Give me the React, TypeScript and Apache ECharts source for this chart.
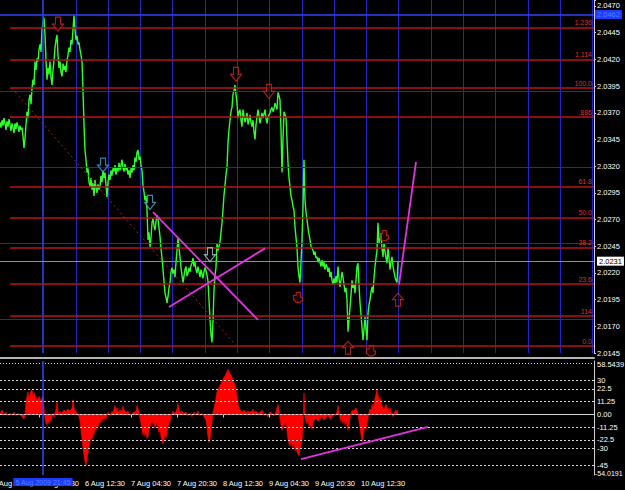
import React, { useEffect, useRef } from "react";
import * as echarts from "echarts";

// ---------- data ----------
const barCount = 595;
const closes: number[] = [
  2.0361, 2.0356, 2.0363, 2.0358, 2.0365, 2.036, 2.0354, 2.0362, 2.0357, 2.0364,
  2.0359, 2.0353, 2.036, 2.0356, 2.0351, 2.036, 2.0355, 2.0361, 2.0357, 2.0352,
  2.0358, 2.0354, 2.0356, 2.0348, 2.0337, 2.0346, 2.0359, 2.0371, 2.0365, 2.0382,
  2.0387, 2.0378, 2.0393, 2.0401, 2.0396, 2.0418, 2.041, 2.0421, 2.0418, 2.0429,
  2.0434, 2.0427, 2.0448, 2.0455, 2.0459, 2.0443, 2.0419, 2.0401, 2.0412, 2.0406,
  2.0418, 2.0403, 2.0396, 2.041, 2.0419, 2.0431, 2.0438, 2.0443, 2.0424, 2.0412,
  2.0418, 2.0408, 2.0404, 2.0416, 2.041, 2.0414, 2.0408, 2.0419, 2.0424, 2.0431,
  2.0427, 2.0438, 2.0434, 2.0448, 2.0461, 2.0448, 2.0438, 2.0442, 2.0434, 2.0436,
  2.0429, 2.0424, 2.0418, 2.0391, 2.0359, 2.0335, 2.0326, 2.0314, 2.0318, 2.0305,
  2.0301, 2.0309, 2.0298, 2.0304, 2.0292, 2.0307, 2.03, 2.0295, 2.0303, 2.0298,
  2.0301, 2.0311, 2.0305, 2.0316, 2.0309, 2.0314, 2.0302, 2.0291, 2.0305, 2.0312,
  2.0307, 2.0316, 2.0311, 2.0318, 2.0315, 2.0321, 2.0312, 2.0319, 2.0315, 2.0323,
  2.0316, 2.0321, 2.0326, 2.0318, 2.0315, 2.0322, 2.0316, 2.0319, 2.0312, 2.0316,
  2.0309, 2.0318, 2.0314, 2.0321, 2.0316, 2.0328, 2.0324, 2.0333, 2.0335, 2.0326,
  2.0329, 2.0321, 2.0316, 2.0302, 2.0296, 2.0288, 2.0292, 2.0279, 2.0251, 2.0258,
  2.0244, 2.0253, 2.0267, 2.0271, 2.0264, 2.026, 2.0268, 2.0274, 2.0271, 2.0262,
  2.0254, 2.0243, 2.0234, 2.0223, 2.0212, 2.0201, 2.0197, 2.0192, 2.0198, 2.0206,
  2.0211, 2.0221, 2.0225, 2.0219, 2.0223, 2.0216, 2.023, 2.0241, 2.0253, 2.0243,
  2.0235, 2.0225, 2.0218, 2.0211, 2.0217, 2.0223, 2.0226, 2.0217, 2.022, 2.0225,
  2.0221, 2.0227, 2.0229, 2.0234, 2.0226, 2.023, 2.0223, 2.022, 2.0226, 2.0221,
  2.0216, 2.0223, 2.0219, 2.0215, 2.0221, 2.0225, 2.0222, 2.0218, 2.0212, 2.0195,
  2.0176, 2.0162, 2.0155, 2.0176, 2.0204, 2.0218, 2.0225, 2.0248, 2.0241, 2.0245,
  2.0249, 2.0258, 2.0267, 2.0279, 2.0293, 2.0302, 2.0312, 2.0319, 2.0342, 2.0354,
  2.0363, 2.0371, 2.0375, 2.0387, 2.0391, 2.0396, 2.0387, 2.0379, 2.0365, 2.0371,
  2.0373, 2.0363, 2.0357, 2.0373, 2.0367, 2.0361, 2.0365, 2.037, 2.0359, 2.0363,
  2.0368, 2.0361, 2.0357, 2.0363, 2.0352, 2.0345, 2.0359, 2.0366, 2.0373, 2.0367,
  2.036, 2.0365, 2.037, 2.0365, 2.0369, 2.0373, 2.0365, 2.036, 2.0366, 2.0368,
  2.037, 2.0373, 2.0375, 2.0371, 2.0374, 2.0379, 2.0376, 2.0373, 2.0389, 2.0386,
  2.0382, 2.0354, 2.0314, 2.0345, 2.0371, 2.0368, 2.0366, 2.0345, 2.0323, 2.0309,
  2.0301, 2.0292, 2.0288, 2.0282, 2.0279, 2.0263, 2.0253, 2.0244, 2.0225, 2.0217,
  2.0211, 2.023, 2.0251, 2.0282, 2.0326, 2.0288, 2.0277, 2.027, 2.0262, 2.0256,
  2.0251, 2.0245, 2.0243, 2.0241, 2.0237, 2.024, 2.0234, 2.0235, 2.023, 2.0234,
  2.023, 2.0226, 2.0232, 2.0226, 2.023, 2.0223, 2.0228, 2.0226, 2.0221, 2.0225,
  2.0216, 2.0221, 2.0213, 2.0209, 2.0215, 2.021, 2.0217, 2.0211, 2.0226, 2.0215,
  2.0207, 2.0213, 2.0221, 2.0216, 2.0209, 2.0202, 2.0206, 2.0195, 2.0165, 2.0176,
  2.0188, 2.0199, 2.0213, 2.0206, 2.0209, 2.0201, 2.0213, 2.0226, 2.0229, 2.0209,
  2.0192, 2.0181, 2.0169, 2.0157, 2.0167, 2.0179, 2.0167, 2.0157, 2.0182, 2.019,
  2.0195, 2.0202, 2.0207, 2.0201, 2.0215, 2.0226, 2.0234, 2.0241, 2.0267, 2.0248,
  2.0253, 2.0257, 2.0243, 2.0235, 2.0248, 2.024, 2.0234, 2.0229, 2.0244, 2.0234,
  2.0223, 2.023, 2.0235, 2.0226, 2.0221, 2.0216, 2.0213, 2.0211, 2.0231,
];

const oscillator: [number, number][] = [
  [0, 1], [2, 4], [4, 0], [6, 2], [8, -1], [10, 1], [12, 0], [14, 2], [16, -1], [18, 1],
  [20, 0], [22, -2], [24, -4], [25, 0], [26, 12], [27, 16], [28, 20], [29, 14], [30, 18], [31, 21],
  [32, 22], [33, 16], [34, 19], [35, 17], [36, 13], [37, 15], [38, 12], [39, 16], [40, 14], [41, 12],
  [42, 15], [43, 16], [44, 6], [45, -4], [46, -8], [47, -9], [48, -6], [49, -8], [50, -4], [51, -6],
  [52, -2], [53, 1], [54, -3], [55, 2], [56, 4], [57, 11], [58, 3], [59, 1], [60, 3], [61, -1],
  [62, 2], [64, 4], [66, 2], [68, 5], [70, 3], [72, 6], [73, 13], [74, 6], [75, 3], [77, 1],
  [79, -2], [80, -6], [81, -14], [82, -22], [83, -30], [84, -36], [85, -42], [86, -45], [87, -40], [88, -34],
  [89, -28], [90, -24], [91, -20], [92, -22], [93, -16], [94, -18], [95, -12], [96, -14], [97, -9], [98, -11],
  [99, -7], [100, -8], [101, -4], [102, -6], [103, -3], [104, -5], [105, -2], [106, -4], [107, -1], [108, 2],
  [110, -1], [112, 3], [113, 1], [114, 5], [115, 8], [116, 4], [117, 6], [118, 2], [120, 4], [122, 3],
  [123, 8], [124, 4], [126, 2], [128, 3], [130, -1], [132, 1], [134, 2], [136, 3], [137, 8], [138, 5],
  [139, 2], [140, -3], [141, -8], [142, -14], [143, -18], [144, -15], [145, -19], [146, -16], [147, -21], [148, -20],
  [149, -14], [150, -10], [151, -8], [152, -6], [153, -9], [154, -7], [155, -12], [156, -10], [157, -7], [158, -12],
  [159, -16], [160, -14], [161, -20], [162, -24], [163, -26], [164, -22], [165, -18], [166, -21], [167, -15], [168, -10],
  [169, -8], [170, -6], [171, -2], [172, 1], [173, 3], [174, 1], [176, 2], [177, 5], [178, 10], [179, 4],
  [180, 2], [182, 3], [184, 1], [186, 2], [188, -1], [190, 1], [192, -2], [194, 2], [196, 0], [198, 3],
  [200, -1], [202, 1], [204, -2], [206, -5], [207, -12], [208, -20], [209, -25], [210, -22], [211, -14], [212, -6],
  [213, 2], [214, 6], [215, 10], [216, 15], [217, 20], [218, 22], [219, 24], [220, 26], [221, 27], [222, 29],
  [223, 31], [224, 33], [225, 34], [226, 36], [227, 38], [228, 40], [229, 38], [230, 36], [231, 35], [232, 33],
  [233, 31], [234, 28], [235, 26], [236, 22], [237, 16], [238, 10], [239, 6], [240, 4], [242, 2], [244, 4],
  [246, 1], [248, 3], [250, 2], [252, 3], [253, 5], [254, 2], [256, 3], [258, 1], [260, 2], [262, 4],
  [263, 2], [264, -1], [266, 1], [268, -2], [270, 2], [272, 1], [274, -1], [276, 2], [277, 6], [278, 9],
  [279, 4], [280, -4], [281, -9], [282, -14], [283, -12], [284, -8], [285, -10], [286, -7], [287, -15], [288, -22],
  [289, -26], [290, -28], [291, -24], [292, -27], [293, -29], [294, -26], [295, -32], [296, -30], [297, -33], [298, -35],
  [299, -36], [300, -30], [301, -27], [302, -22], [303, -8], [304, 19], [305, -2], [306, -6], [307, -8], [308, -5],
  [309, -10], [310, -12], [311, -9], [312, -13], [313, -7], [314, -5], [316, -3], [318, -6], [320, -4], [322, -2],
  [324, -5], [326, -3], [328, -1], [330, -4], [332, -2], [334, 0], [336, -1], [337, 3], [338, 8], [339, 2],
  [340, -3], [341, -6], [342, -4], [343, -8], [344, -5], [345, -9], [346, -6], [347, -10], [348, -14], [349, -8],
  [350, -3], [351, 1], [352, 3], [353, 4], [354, 2], [355, 5], [356, 6], [357, 3], [358, 1], [359, -6],
  [360, -12], [361, -18], [362, -24], [363, -20], [364, -14], [365, -10], [366, -13], [367, -8], [368, -4], [369, 2],
  [370, 5], [371, 3], [372, 9], [373, 6], [374, 10], [375, 14], [376, 18], [377, 22], [378, 17], [379, 13],
  [380, 15], [381, 10], [382, 8], [383, 6], [384, 4], [385, 7], [386, 9], [387, 5], [388, 6], [389, 3],
  [390, 6], [391, 2], [392, 1], [393, -2], [394, 1], [395, 3], [396, 4], [397, 2], [398, 4],
];

const priceMin = 2.0145;
const priceMax = 2.04756;
const priceStep = 0.0025;
const lastPrice = 2.0231;
const crossPrice = 2.0462;
const crossBar = 43;
const crossPriceText = "2.0462";
const crossTimeText = "5 Aug 2009 21:45";

const oscMin = -53.4;
const oscMax = 47.2;
const oscTopText = "58.5439";
const oscBottomText = "-54.0191";
const oscLevels = [45, 30, 22.5, 11.25, 0, -11.25, -22.5, -30, -45];
const oscLevelText = ["", "30", "22.5", "11.25", "0.00", "-11.25", "-22.5", "-30", "-45"];

const fibStartBar = 10;
const fibLabels = ["1.236", "1.114", "100.0", ".886", "61.8", "50.0", "38.2", "23.6", ".114", "0.0"];
const fibPrices = [2.045, 2.042, 2.0393, 2.0366, 2.0301, 2.0272, 2.0244, 2.021, 2.018, 2.0152];
const fibAnchor: [number, number][] = [[12, 2.0393], [236, 2.0152]];

const blueGridPrices = [2.039, 2.0319, 2.0248, 2.0177];
const blueGridBars = [76, 108, 140, 172, 205, 237, 269, 302, 334, 366, 398, 431, 463, 495, 528, 560, 592];

const xTickBars = [39, 85, 131, 177, 223, 269, 315, 361];
const xTickText = ["5 Aug 20:30", "6 Aug 12:30", "7 Aug 04:30", "7 Aug 20:30", "8 Aug 12:30", "9 Aug 04:30", "9 Aug 20:30", "10 Aug 12:30"];
const cutLabelText = "5 Aug 04:30";

const priceTrendlines: [number, number, number, number][] = [
  [30, 2.0476, 594, 2.0305],
  [153, 2.0277, 258, 2.0176],
  [169, 2.0188, 265, 2.0243],
  [301, 2.0209, 375, 2.0141],
  [399, 2.0209, 416, 2.0324],
];
const oscTrendlines: [number, number, number, number][] = [[301, -39.3, 428, -11.0]];

const arrowsDown: [number, number, string][] = [
  [58, 2.0453, "#d02424"],
  [236, 2.0406, "#d02424"],
  [269, 2.039, "#d02424"],
  [103, 2.0321, "#3fa0e0"],
  [150, 2.0286, "#5aa8d0"],
  [210, 2.0237, "#a8c4d4"],
];
const arrowsUp: [number, number][] = [[348, 2.015], [398, 2.0195]];
const thumbs: [number, number][] = [[298, 2.0197], [384, 2.0255], [371, 2.0147]];

// ---------- chart ----------
const FONT = "Liberation Sans, Arial, sans-serif";
const magenta = "#e032e0";
const blueGrid = "#2424c4";
const crossBlue = "#2846ff";
const fibRed = "#b41616";
const downPath = "path://M3,0L8,0L8,7L11,7L5.5,14L0,7L3,7Z";
const upPath = "path://M5.5,0L11,7L8,7L8,14L3,14L3,7L0,7Z";
const thumbPath = "path://M3,0L8,0L8,5L10,5L10,8L7,10L3,10L0,7L0,3L3,3Z";

function hLine(p: number, from: number, to: number, lineStyle: any, label: any = { show: false }) {
  return [{ coord: [from, p], lineStyle, label }, { coord: [to, p] }];
}

export default function App() {
  const ref = useRef<HTMLDivElement>(null);
  useEffect(() => {
    if (!ref.current) return;
    const chart = echarts.init(ref.current, null, { renderer: "svg" });
    const cats = Array.from({ length: barCount }, (_, i) => String(i));
    const lastBar = barCount - 1;
    const tickFn = (idx: number) => xTickBars.includes(idx);

    const option: any = {
      animation: false,
      backgroundColor: "#000000",
      textStyle: { fontFamily: FONT },
      grid: [
        { left: 0, right: 31, top: 0, height: 353 },
        { left: 0, right: 31, top: 361, height: 114 },
      ],
      xAxis: [
        {
          type: "category", gridIndex: 0, data: cats, boundaryGap: false,
          offset: 5,
          axisLine: { show: true, lineStyle: { color: "#b4b4b4", width: 2 } },
          axisTick: { show: false }, axisLabel: { show: false },
          splitLine: { show: true, interval: (idx: number) => blueGridBars.includes(idx), lineStyle: { color: blueGrid, width: 1 } },
        },
        {
          type: "category", gridIndex: 1, data: cats, boundaryGap: false,
          axisLine: { show: true, lineStyle: { color: "#d0d0d0", width: 1 } },
          axisTick: { show: true, interval: tickFn, length: 3, lineStyle: { color: "#d0d0d0" } },
          axisLabel: {
            show: true, interval: tickFn, align: "left", margin: 4,
            color: "#ffffff", fontSize: 7.5, fontFamily: FONT,
            formatter: (_v: string, idx: number) => { const k = xTickBars.indexOf(idx); return k >= 0 ? xTickText[k] : ""; },
          },
          splitLine: { show: false },
        },
      ],
      yAxis: [
        {
          type: "value", gridIndex: 0, position: "right", min: priceMin, max: priceMax, interval: priceStep,
          axisLine: { show: true, lineStyle: { color: "#d0d0d0" } },
          axisTick: { show: true, length: 2, lineStyle: { color: "#d0d0d0" } },
          axisLabel: {
            show: true, color: "#ffffff", fontSize: 7.5, margin: 3, fontFamily: FONT,
            formatter: (v: number) => (v > priceMax - 0.0004 ? "" : v.toFixed(4)),
          },
          splitLine: { show: false },
        },
        {
          type: "value", gridIndex: 1, position: "right", min: oscMin, max: oscMax,
          axisLine: { show: true, lineStyle: { color: "#d0d0d0" } },
          axisTick: { show: false }, axisLabel: { show: false }, splitLine: { show: false },
        },
      ],
      series: [
        {
          name: "grid-h", type: "line", xAxisIndex: 0, yAxisIndex: 0, data: [], z: 1, silent: true,
          markLine: {
            symbol: "none", silent: true, animation: false,
            data: [
              ...blueGridPrices.map((p) => hLine(p, 0, lastBar, { color: blueGrid, width: 1, type: "solid" })),
              hLine(crossPrice, 0, lastBar, { color: crossBlue, width: 1.5, type: "solid" },
                { show: true, position: "end", distance: 1, formatter: crossPriceText, color: "#5a7cff", backgroundColor: "#1a3cff", padding: [1, 2, 0, 2], fontSize: 7.5, fontFamily: FONT }),
              [{ coord: [crossBar, priceMin], lineStyle: { color: crossBlue, width: 1.5, type: "solid" }, label: { show: false } }, { coord: [crossBar, priceMax] }],
            ],
          },
        },
        {
          name: "fib", type: "line", xAxisIndex: 0, yAxisIndex: 0, data: [], z: 2, silent: true,
          markLine: {
            symbol: "none", silent: true, animation: false,
            data: [
              ...fibPrices.map((p, i) => hLine(p, fibStartBar, lastBar, { color: fibRed, width: 1.6, type: "solid" },
                { show: true, position: "insideEndTop", distance: [2, 1], formatter: fibLabels[i], color: "#e02a2a", fontSize: 7, fontFamily: FONT })),
              [
                { coord: fibAnchor[0], lineStyle: { color: "#a82020", width: 1, type: [2, 3] }, label: { show: false } },
                { coord: fibAnchor[1] },
              ],
              hLine(lastPrice, 0, lastBar, { color: "#909090", width: 1.2, type: "solid" },
                { show: true, position: "end", distance: 3, formatter: lastPrice.toFixed(4), color: "#000000", backgroundColor: "#ffffff", padding: [1, 2, 0, 2], fontSize: 7.5, fontFamily: FONT }),
            ],
          },
        },
        {
          name: "price", type: "line", xAxisIndex: 0, yAxisIndex: 0, data: closes, z: 3,
          showSymbol: false, symbol: "none", silent: true,
          lineStyle: { color: "#2cff2c", width: 1.4 },
        },
        {
          name: "trend", type: "line", xAxisIndex: 0, yAxisIndex: 0, data: [], z: 4, silent: true,
          markLine: {
            symbol: "none", silent: true, animation: false,
            data: priceTrendlines.map(([x1, y1, x2, y2]) => [
              { coord: [x1, y1], lineStyle: { color: magenta, width: 1.8, type: "solid" }, label: { show: false } },
              { coord: [x2, y2] },
            ]),
          },
        },
        {
          name: "down", type: "scatter", xAxisIndex: 0, yAxisIndex: 0, z: 5, silent: true,
          symbol: downPath, symbolSize: [11, 14],
          data: arrowsDown.map(([x, p, c]) => ({ value: [x, p], itemStyle: { color: "rgba(0,0,0,0.5)", borderColor: c, borderWidth: 1.2 } })),
        },
        {
          name: "up", type: "scatter", xAxisIndex: 0, yAxisIndex: 0, z: 5, silent: true,
          symbol: upPath, symbolSize: [11, 13],
          itemStyle: { color: "rgba(0,0,0,0.5)", borderColor: "#d02424", borderWidth: 1.2 },
          data: arrowsUp,
        },
        {
          name: "thumb", type: "scatter", xAxisIndex: 0, yAxisIndex: 0, z: 5, silent: true,
          symbol: thumbPath, symbolSize: [9, 10],
          itemStyle: { color: "rgba(60,0,0,0.6)", borderColor: "#d02424", borderWidth: 1.2 },
          data: thumbs,
        },
        {
          name: "osc", type: "line", xAxisIndex: 1, yAxisIndex: 1, data: oscillator, z: 3,
          showSymbol: false, symbol: "none", silent: true,
          lineStyle: { color: "#ff0000", width: 0.6 },
          areaStyle: { color: "#ff0000", opacity: 1 },
          markLine: {
            symbol: "none", silent: true, animation: false,
            data: [
              ...oscLevels.map((v, i) => hLine(v, 0, lastBar, { color: "#d8d8d8", width: 1, type: i === 0 ? [1, 2] : [2, 2] },
                { show: oscLevelText[i] !== "", position: "end", distance: 3, formatter: oscLevelText[i], color: "#ffffff", fontSize: 7.5, fontFamily: FONT })),
              [
                { coord: [crossBar, oscMin], lineStyle: { color: crossBlue, width: 1.5, type: "solid" },
                  label: { show: true, position: "start", distance: 3, formatter: crossTimeText, color: "#5a7cff", backgroundColor: "#1a3cff", padding: [1, 2, 0, 2], fontSize: 7, fontFamily: FONT } },
                { coord: [crossBar, oscMax] },
              ],
              ...oscTrendlines.map(([x1, y1, x2, y2]) => [
                { coord: [x1, y1], lineStyle: { color: magenta, width: 1.8, type: "solid" }, label: { show: false } },
                { coord: [x2, y2] },
              ]),
            ],
          },
        },
      ],
      graphic: [
        { type: "text", left: -7, top: 479, z: 0, style: { text: cutLabelText, fill: "#ffffff", fontSize: 7.5, fontFamily: FONT } },
        { type: "text", left: 597, top: 360, z: 10, style: { text: oscTopText, fill: "#ffffff", fontSize: 7.5, fontFamily: FONT } },
        { type: "text", left: 595, top: 470, z: 10, style: { text: oscBottomText, fill: "#ffffff", fontSize: 7, fontFamily: FONT } },
      ],
    };
    chart.setOption(option);
    return () => chart.dispose();
  }, []);

  return (
    <div style={{ position: "fixed", left: 0, top: 0, width: 625, height: 490, background: "#000" }}>
      <div ref={ref} style={{ width: 625, height: 490 }} />
    </div>
  );
}
